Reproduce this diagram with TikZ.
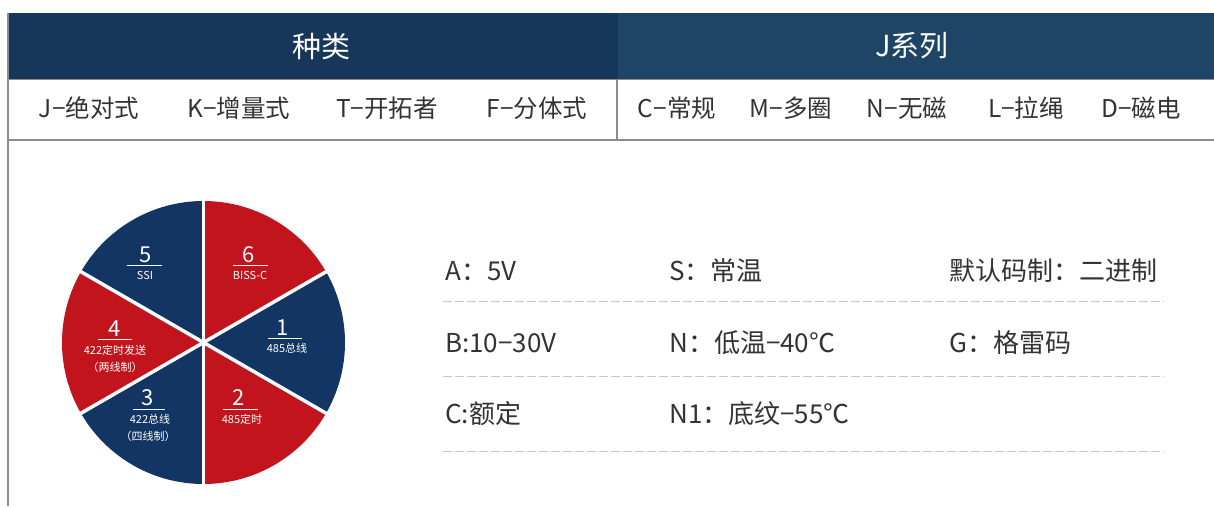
\documentclass[tikz,border=0pt]{standalone}
\usepackage{fontspec}
\setmainfont{Noto Sans CJK SC}
\definecolor{hdrL}{HTML}{16365A}
\definecolor{hdrR}{HTML}{1F4566}
\definecolor{pieR}{HTML}{C1141D}
\definecolor{pieB}{HTML}{123563}
\definecolor{gridc}{HTML}{8C8C8C}
\definecolor{dashc}{HTML}{C8C8C8}
\definecolor{txt}{HTML}{333333}
\begin{document}
\begin{tikzpicture}[x=1pt,y=-1pt,
  hdr/.style={text=white,font=\fontsize{29}{34}\selectfont,inner sep=0pt},
  cat/.style={text=txt,font=\fontsize{24.5}{29}\selectfont,inner sep=0pt},
  spec/.style={text=txt,font=\fontsize{26}{31}\selectfont,inner sep=0pt,anchor=west},
  dig/.style={text=white,font=\fontsize{22}{26}\selectfont,inner sep=0pt},
  lab/.style={text=white,font=\fontsize{11}{13}\selectfont,inner sep=0pt},
  uline/.style={white,line width=0.9pt},
  dashline/.style={dashc,line width=1pt,dash pattern=on 9pt off 3pt},
  gap/.style={white,line width=3.5pt}]
\useasboundingbox (0,0) rectangle (1214,506);
\fill[white] (0,0) rectangle (1214,506);
% table
\fill[hdrL] (8,13) rectangle (618,79);
\fill[hdrR] (618,13) rectangle (1214,79);
\draw[gridc,line width=1.2pt] (8,79.5) -- (1214,79.5);
\draw[gridc,line width=1.5pt] (8,140) -- (1214,140);
\draw[gridc,line width=1.5pt] (8,13) -- (8,506);
\draw[gridc,line width=1.2pt] (617,79) -- (617,140);
\node[hdr] (h1) at (321,46) {种类};
\node[hdr] (h2) at (912,46) {J系列};
\node[cat] (c1) at (89,108) {J−绝对式};
\node[cat] (c2) at (239,108) {K−增量式};
\node[cat] (c3) at (387,108) {T−开拓者};
\node[cat] (c4) at (537,108) {F−分体式};
\node[cat] (c5) at (677,108) {C−常规};
\node[cat] (c6) at (791,108) {M−多圈};
\node[cat] (c7) at (907,108) {N−无磁};
\node[cat] (c8) at (1026,108) {L−拉绳};
\node[cat] (c9) at (1141,108) {D−磁电};
% specs
\node[spec] (s1) at (445,271) {A：5V};
\node[spec] (s2) at (669,271) {S：常温};
\node[spec] (s3) at (949,271) {默认码制：二进制};
\node[spec] (s4) at (445,343) {B:10−30V};
\node[spec] (s5) at (669,343) {N：低温−40℃};
\node[spec] (s6) at (949,343) {G：格雷码};
\node[spec] (s7) at (445,414) {C:额定};
\node[spec] (s8) at (669,414) {N1：底纹−55℃};
\draw[dashline] (443,301) -- (1164,301);
\draw[dashline] (443,376) -- (1164,376);
\draw[dashline] (443,451) -- (1164,451);
% pie
\coordinate (pc) at (203.5,342.5);
\def\R{141.5}
\fill[pieR] (pc) -- ++(-90:\R) arc[start angle=-90,end angle=-30,radius=\R] -- cycle;
\fill[pieB] (pc) -- ++(-30:\R) arc[start angle=-30,end angle=30,radius=\R] -- cycle;
\fill[pieR] (pc) -- ++(30:\R) arc[start angle=30,end angle=90,radius=\R] -- cycle;
\fill[pieB] (pc) -- ++(90:\R) arc[start angle=90,end angle=150,radius=\R] -- cycle;
\fill[pieR] (pc) -- ++(150:\R) arc[start angle=150,end angle=210,radius=\R] -- cycle;
\fill[pieB] (pc) -- ++(210:\R) arc[start angle=210,end angle=270,radius=\R] -- cycle;
\foreach \a in {-90,-30,30,90,150,210} \draw[gap] (pc) -- ++(\a:\R+2);
% pie labels
\node[dig] (d6) at (249,255) {6};
\draw[uline] (233,265) -- (268,265);
\node[lab] (l6) at (250,275) {BISS-C};
\node[dig] (d5) at (146,255) {5};
\draw[uline] (127,265) -- (162,265);
\node[lab] (l5) at (145,275) {SSI};
\node[dig] (d1) at (283,328) {1};
\draw[uline] (268,338) -- (302,338);
\node[lab] (l1) at (287,348) {485总线};
\node[dig] (d4) at (115,329) {4};
\draw[uline] (98,339) -- (132,339);
\node[lab] (l4a) at (115,350) {422定时发送};
\node[lab] (l4b) at (115,367) {（两线制）};
\node[dig] (d3) at (148,398) {3};
\draw[uline] (133,409) -- (165,409);
\node[lab] (l3a) at (150,419) {422总线};
\node[lab] (l3b) at (148,436) {（四线制）};
\node[dig] (d2) at (239,398) {2};
\draw[uline] (223,409) -- (258,409);
\node[lab] (l2) at (242,419) {485定时};
\end{tikzpicture}
\end{document}
